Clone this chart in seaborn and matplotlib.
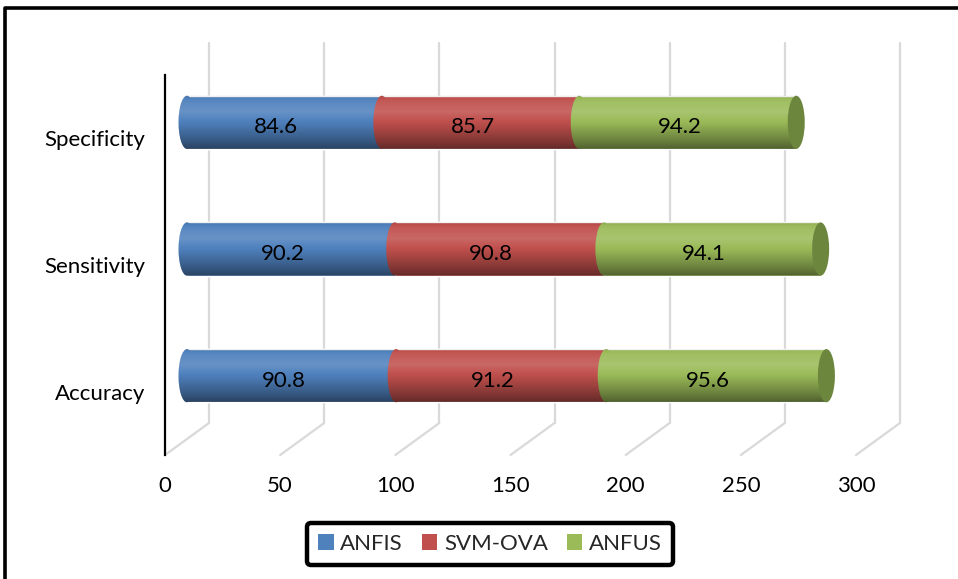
import numpy as np
import pandas as pd
import matplotlib
matplotlib.use('Agg')
import matplotlib.pyplot as plt
import matplotlib.transforms as mtransforms
from matplotlib.patches import Ellipse, Patch
from matplotlib.lines import Line2D
from matplotlib.path import Path
import seaborn as sns

# data
metrics = ['Specificity', 'Sensitivity', 'Accuracy']
series = ['ANFIS', 'SVM-OVA', 'ANFUS']
anfis = [84.6, 90.2, 90.8]
svm_ova = [85.7, 90.8, 91.2]
anfus = [94.2, 94.1, 95.6]
xticks = [0, 50, 100, 150, 200, 250, 300]

colors = ['#4F81BD', '#C0504D', '#9BBB59']
cap_color = '#6C873D'
grid_color = '#D9D9D9'
fs = 16

sns.set_theme(style='white')
plt.rcParams['font.family'] = ['Lato', 'DejaVu Sans']

W, H = 958, 579
fig = plt.figure(figsize=(W / 100, H / 100), dpi=100)
# front plane of the pseudo-3D box, in pixels
x0, x1, y0, y1 = 165, 856, 75, 455
ax = fig.add_axes([x0 / W, 1 - y1 / H, (x1 - x0) / W, (y1 - y0) / H])

df = pd.DataFrame({'metric': metrics, 'ANFIS': anfis, 'SVM-OVA': svm_ova, 'ANFUS': anfus})
cum = df[series].cumsum(axis=1)
starts = cum.shift(axis=1, fill_value=0)

bar_h = 0.42
# stacked bars: longest first, shorter ones drawn over them
for i in reversed(range(len(series))):
    sns.barplot(x=cum[series[i]], y=df['metric'], order=metrics, orient='h',
                color=colors[i], saturation=1, width=bar_h, errorbar=None,
                ax=ax, zorder=1)

xmax = xticks[-1]
ax.set_xlim(0, xmax)
ax.set_ylim(len(metrics) - 0.5, -0.5)

# depth offsets (bars sit in the middle of the box)
bar_off = ax.transData + mtransforms.ScaledTranslation(0.22, 0.16, fig.dpi_scale_trans)
lab_off = ax.transData + mtransforms.ScaledTranslation(0.14, 0.11, fig.dpi_scale_trans)
for p in ax.patches:
    p.set_transform(bar_off)

kx = (x1 - x0) / xmax
ky = (y1 - y0) / len(metrics)
bx, by = 44 / kx, -32 / ky
ybot, ytop = len(metrics) - 0.5, -0.5

# back wall gridlines and floor diagonals
for v in xticks:
    ax.plot([v + bx, v + bx], [ybot + by, ytop + by], color=grid_color, lw=1.6,
            zorder=0, clip_on=False)
    ax.plot([v, v + bx], [ybot, ybot + by], color=grid_color, lw=1.6,
            zorder=0, clip_on=False)

# cylinder shading
ew = 17 / kx
t = np.linspace(0, 1, 120)
f = np.interp(t, [0, 0.1, 0.3, 0.55, 0.85, 1], [0.9, 1.05, 1.14, 0.95, 0.68, 0.52])
shade = np.zeros((len(t), 2, 4))
shade[..., :3] = np.where(f > 1, 1.0, 0.0)[:, None, None]
shade[..., 3] = np.abs(f - 1)[:, None]

for r, m in enumerate(metrics):
    total = cum.loc[r, series[-1]]
    for i, s in enumerate(series):
        ax.add_patch(Ellipse((starts.loc[r, s], r), ew, bar_h, facecolor=colors[i],
                             edgecolor='none', transform=bar_off, zorder=2))
    ang = np.linspace(np.pi / 2, 3 * np.pi / 2, 40)
    verts = [(0.5 * ew * np.cos(a), r - 0.5 * bar_h * np.sin(a)) for a in ang]
    verts += [(total, r + bar_h / 2), (total, r - bar_h / 2), verts[0]]
    clip = Path(verts, closed=True)
    im = ax.imshow(shade, extent=(-ew, total, r + bar_h / 2, r - bar_h / 2),
                   aspect='auto', interpolation='bilinear', zorder=3)
    im.set_transform(bar_off)
    im.set_clip_path(clip, bar_off)
    ax.add_patch(Ellipse((total, r), ew, bar_h, facecolor=cap_color,
                         edgecolor='none', transform=bar_off, zorder=4))
    for i, s in enumerate(series):
        val = df.loc[r, s]
        ax.text(starts.loc[r, s] + val / 2, r, f'{val:.1f}', transform=lab_off,
                ha='center', va='center', fontsize=fs, color='black', zorder=5)

ax.set_aspect('auto')
ax.set_xlim(0, xmax)
ax.set_ylim(len(metrics) - 0.5, -0.5)
ax.set_xticks(xticks)
ax.set_xlabel('')
ax.set_ylabel('')
ax.tick_params(axis='y', length=0, pad=14, labelsize=fs, labelcolor='black')
ax.tick_params(axis='x', length=0, pad=15, labelsize=fs, labelcolor='black')
for side in ['top', 'right', 'bottom']:
    ax.spines[side].set_visible(False)
ax.spines['left'].set_color('black')
ax.spines['left'].set_linewidth(1.6)
ax.patch.set_visible(False)

handles = [Patch(facecolor=c, edgecolor='none', label=s) for c, s in zip(colors, series)]
leg = fig.legend(handles=handles, loc='center', bbox_to_anchor=(490 / W, 1 - 544 / H),
                 ncol=3, fontsize=fs, frameon=True, fancybox=True,
                 handlelength=0.7, handleheight=0.7, handletextpad=0.3,
                 columnspacing=0.85, borderpad=0.5)
frame = leg.get_frame()
frame.set_edgecolor('black')
frame.set_linewidth(3.2)
frame.set_facecolor('white')
frame.set_alpha(1)

# outer chart border (top and left visible)
fig.add_artist(Line2D([5 / W, 5 / W, 1.0], [0.0, 1 - 8 / H, 1 - 8 / H],
                      transform=fig.transFigure, color='black', lw=2.6))

fig.savefig('out.png', dpi=100)
